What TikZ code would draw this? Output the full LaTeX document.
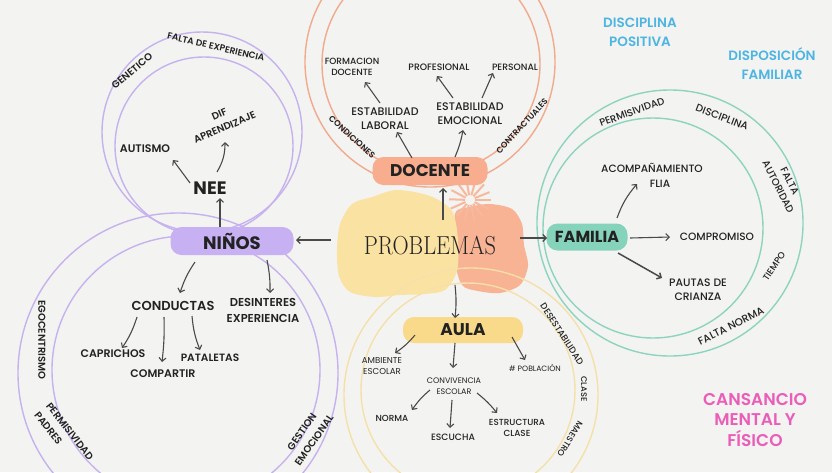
\documentclass[tikz,border=0pt]{standalone}
\usepackage{fontspec}
\usepackage{graphicx}
\newfontfamily\pop{Poppins}
\newfontfamily\popm{Poppins Medium}
\newfontfamily\pops{Poppins SemiBold}
\newfontfamily\popb{Poppins Bold}
\usetikzlibrary{arrows.meta}
\definecolor{bg}{HTML}{F3F3F1}
\definecolor{ink}{HTML}{222222}
\definecolor{arrowc}{HTML}{4A4A4A}
\definecolor{purp}{HTML}{C6B2EE}
\definecolor{purpf}{HTML}{C8B1F3}
\definecolor{oran}{HTML}{F2AA8C}
\definecolor{oranf}{HTML}{F7AD8E}
\definecolor{teal}{HTML}{8DD4BF}
\definecolor{tealf}{HTML}{86D3BB}
\definecolor{yell}{HTML}{F5E0AA}
\definecolor{yellf}{HTML}{F9DA8B}
\definecolor{blobY}{HTML}{FAE3A2}
\definecolor{blobO}{HTML}{F8B294}
\definecolor{star}{HTML}{F7B99E}
\definecolor{blue}{HTML}{4DB5E2}
\definecolor{pink}{HTML}{EA5DB8}
\newcommand{\myfs}[2]{\fontsize{#1}{#2}\selectfont}
\begin{document}
\begin{tikzpicture}[x=1pt,y=-1pt,
  ring/.style={line width=1.4pt},
  hub/.style={rounded corners=11pt, inner sep=0pt, text=ink, font=\popb\myfs{17}{17}},
  lab/.style={text=ink, align=center, inner sep=0pt},
  arr/.style={draw=arrowc, line width=1.1pt, -{Straight Barb[length=3.5pt,width=7pt]}},
]
\useasboundingbox (0,0) rectangle (832,472);
\clip (0,0) rectangle (832,472);
\fill[bg] (0,0) rectangle (832,472);

% blobs
\fill[blobO] plot[smooth cycle] coordinates {(455,214) (470,207) (490,204) (512,209) (522,224) (524,245) (528,266) (520,285) (500,293) (478,291) (462,285) (455,260)};
\fill[blobY] plot[smooth cycle] coordinates {(397,190) (372,197) (352,204) (340,224) (337,250) (339,276) (350,292) (375,297) (400,295) (425,294) (445,290) (457,271) (458,240) (452,211) (430,196)};
\foreach \a in {0,26,...,340} \draw[star, line width=2pt] (470,200) ++(\a:5) -- ++(\a:16);

% rings
\draw[ring, purp] (202,132) circle[radius=100];
\draw[ring, purp] (204,146) circle[radius=89];
\draw[ring, purp] (178,373) circle[radius=160];
\draw[ring, purp] (186,370) circle[radius=134];
\draw[ring, oran] (430,62) circle[radius=125];
\draw[ring, oran] (431,64) circle[radius=109];
\draw[ring, teal] (670,223) circle[radius=133];
\draw[ring, teal] (653,228) circle[radius=110];
\draw[ring, yell] (471,395) circle[radius=127];
\draw[ring, yell] (468,390) circle[radius=107];

% centre
\node[lab, font=\rmfamily\myfs{26}{26}] (prob) at (430,246) {\scalebox{0.86}[1]{PROBLEMAS}};

% hubs
\node[hub, fill=purpf, minimum width=123pt, minimum height=28pt, font=\popb\myfs{18}{18}] (ninos) at (232,241) {NIÑOS};
\node[hub, fill=oranf, minimum width=115pt, minimum height=28pt] (docente) at (430,171) {DOCENTE};
\node[hub, fill=tealf, minimum width=81pt, minimum height=27pt, font=\popb\myfs{16}{16}] (familia) at (587,237) {FAMILIA};
\node[hub, fill=yellf, minimum width=120pt, minimum height=26pt] (aula) at (463,330) {AULA};

% NIÑOS branch
\node[lab, font=\popb\myfs{18}{18}] (nee) at (210,188) {NEE};
\node[lab, font=\pops\myfs{11}{12}] (autismo) at (145,149) {AUTISMO};
\node[lab, font=\pops\myfs{10}{14}, rotate=23] (dif) at (222,121) {DIF\\APRENDIZAJE};
\node[lab, font=\pops\myfs{13}{15}] (conductas) at (173,306) {CONDUCTAS};
\node[lab, font=\pops\myfs{11.5}{16}] (desint) at (263,310) {DESINTERES\\EXPERIENCIA};
\node[lab, font=\pops\myfs{11}{12}] (caprichos) at (113,354) {CAPRICHOS};
\node[lab, font=\pops\myfs{11}{12}] (compartir) at (163,374) {COMPARTIR};
\node[lab, font=\pops\myfs{10.6}{12}] (pataletas) at (210,358) {PATALETAS};
\node[lab, font=\pops\myfs{10}{11}, rotate=40] (genetico) at (132,71) {GENETICO};
\node[lab, font=\pops\myfs{9}{10}, rotate=-13] (faltaexp) at (216,47) {FALTA DE EXPERIENCIA};
\node[lab, font=\pops\myfs{10}{11}, rotate=-90] (ego) at (42,340) {EGOCENTRISMO};
\node[lab, font=\pops\myfs{10}{15}, rotate=-52, align=left] (permpad) at (64,436) {PERMISIVIDAD\\PADRES};
\node[lab, font=\pops\myfs{10}{15}, rotate=55] (gestion) at (308,436) {GESTION\\EMOCIONAL};

% DOCENTE branch
\node[lab, font=\popm\myfs{11}{14}] (estlab) at (385,119) {ESTABILIDAD\\LABORAL};
\node[lab, font=\popm\myfs{11}{14}] (estemo) at (470,114) {ESTABILIDAD\\EMOCIONAL};
\node[lab, font=\popm\myfs{9}{11.5}] (formacion) at (352,67) {FORMACION\\DOCENTE};
\node[lab, font=\popm\myfs{9.3}{10}] (profesional) at (439,67) {PROFESIONAL};
\node[lab, font=\popm\myfs{9.2}{10}] (personal) at (515,67) {PERSONAL};
\node[lab, font=\pops\myfs{8.4}{9}, rotate=-42] (condiciones) at (352,137) {CONDICIONES};
\node[lab, font=\pops\myfs{8.3}{9}, rotate=47] (contract) at (522,126) {CONTRACTUALES};

% FAMILIA branch
\node[lab, font=\popm\myfs{10.6}{11}] (acomp) at (652,168) {ACOMPAÑAMIENTO};
\node[lab, font=\popm\myfs{10.6}{11}] (flia) at (660,184) {FLIA};
\node[lab, font=\popm\myfs{10.6}{11}] (compromiso) at (717,237) {COMPROMISO};
\node[lab, font=\popm\myfs{10.8}{14}] (pautas) at (698,290) {PAUTAS DE\\CRIANZA};
\node[lab, font=\popm\myfs{10}{10}, rotate=20] (permis) at (632,112) {PERMISIVIDAD};
\node[lab, font=\popm\myfs{10.4}{10}, rotate=-21] (discip) at (722,117) {DISCIPLINA};
\node[lab, font=\popm\myfs{10}{13}, rotate=-63] (faltaaut) at (784,184) {FALTA\\AUTORIDAD};
\node[lab, font=\popm\myfs{9}{10}, rotate=56] (tiempo) at (774,266) {TIEMPO};
\node[lab, font=\popm\myfs{10.5}{10}, rotate=27] (faltanorma) at (731,326) {FALTA NORMA};

% AULA branch
\node[lab, font=\pop\myfs{8.6}{11}] (ambiente) at (382,366) {AMBIENTE\\ESCOLAR};
\node[lab, font=\pop\myfs{8}{10.5}] (conv) at (454,386) {CONVIVENCIA\\ESCOLAR};
\node[lab, font=\pop\myfs{7.7}{9}] (pobl) at (535,368) {\# POBLACIÓN};
\node[lab, font=\popm\myfs{8.8}{10}] (norma) at (392,418) {NORMA};
\node[lab, font=\popm\myfs{9.2}{10}] (escucha) at (453,437) {ESCUCHA};
\node[lab, font=\popm\myfs{8.8}{11.5}] (estructura) at (517,428) {ESTRUCTURA\\CLASE};
\node[lab, font=\popm\myfs{9}{9}, rotate=-57] (desest) at (562,334) {DESESTABILIDAD};
\node[lab, font=\popm\myfs{8.2}{9}, rotate=-90] (clase) at (584,389) {CLASE};
\node[lab, font=\popm\myfs{8.5}{9}, rotate=-122] (maestro) at (570,439) {MAESTRO};

% free texts
\node[lab, text=blue, font=\pops\myfs{13.5}{19}] (dpos) at (640,32) {DISCIPLINA\\POSITIVA};
\node[lab, text=blue, font=\pops\myfs{13.5}{19}] (dfam) at (772,64) {DISPOSICIÓN\\FAMILIAR};
\node[lab, text=pink, font=\pops\myfs{17}{20.5}] (cans) at (755,420) {CANSANCIO\\MENTAL Y\\FÍSICO};

% arrows
\draw[arr] ([shift={(-99,-6)}]prob.center) -- ([shift={(64,-1)}]ninos.center);
\draw[arr] ([shift={(13,-26)}]prob.center) -- ([shift={(13,17)}]docente.center);
\draw[arr] ([shift={(90,-8)}]prob.center) -- ([shift={(-40,1)}]familia.center);
\draw[arr] ([shift={(25,39)}]prob.center) to[bend left=6] ([shift={(-8,-12)}]aula.center);

\draw[arr] ([shift={(-12,-14)}]ninos.center) -- ([shift={(10,10)}]nee.center);
\draw[arr] ([shift={(-20,-5)}]nee.center) -- ([shift={(28,11)}]autismo.center);
\draw[arr] ([shift={(7,-16)}]nee.center) to[bend right=15] ([shift={(3,21)}]dif.center);
\draw[arr] ([shift={(-37,21)}]ninos.center) to[bend right=8] ([shift={(7,-13)}]conductas.center);
\draw[arr] ([shift={(35,19)}]ninos.center) to[bend left=6] ([shift={(7,-17)}]desint.center);
\draw[arr] ([shift={(-36,11)}]conductas.center) to[bend left=8] ([shift={(9,-6)}]caprichos.center);
\draw[arr] ([shift={(-9,11)}]conductas.center) to[bend left=4] ([shift={(-1,-12)}]compartir.center);
\draw[arr] ([shift={(19,10)}]conductas.center) to[bend right=8] ([shift={(-10,-8)}]pataletas.center);

\draw[arr] ([shift={(-18,-13)}]docente.center) -- ([shift={(12,13)}]estlab.center);
\draw[arr] ([shift={(25,-14)}]docente.center) to[bend right=6] ([shift={(-7,16)}]estemo.center);
\draw[arr] ([shift={(-5,-16)}]estlab.center) -- ([shift={(13,15)}]formacion.center);
\draw[arr] ([shift={(-17,-16)}]estemo.center) -- ([shift={(-2,9)}]profesional.center);
\draw[arr] ([shift={(12,-16)}]estemo.center) -- ([shift={(-22,6)}]personal.center);

\draw[arr] ([shift={(30,-19)}]familia.center) to[bend left=10] ([shift={(-23,0)}]flia.center);
\draw[arr] ([shift={(43,1)}]familia.center) -- ([shift={(-47,0)}]compromiso.center);
\draw[arr, line width=1.5pt] ([shift={(31,16)}]familia.center) -- ([shift={(-36,-12)}]pautas.center);

\draw[arr] ([shift={(-48,5)}]aula.center) to[bend left=8] ([shift={(13,-13)}]ambiente.center);
\draw[arr] ([shift={(-8,13)}]aula.center) -- ([shift={(-1,-18)}]conv.center);
\draw[arr] ([shift={(49,7)}]aula.center) -- ([shift={(-10,-8)}]pobl.center);
\draw[arr] ([shift={(-24,4)}]conv.center) to[bend right=8] ([shift={(20,-8)}]norma.center);
\draw[arr] ([shift={(-2,14)}]conv.center) -- ([shift={(-3,-9)}]escucha.center);
\draw[arr] ([shift={(23,7)}]conv.center) to[bend left=6] ([shift={(-20,-15)}]estructura.center);
\end{tikzpicture}
\end{document}
